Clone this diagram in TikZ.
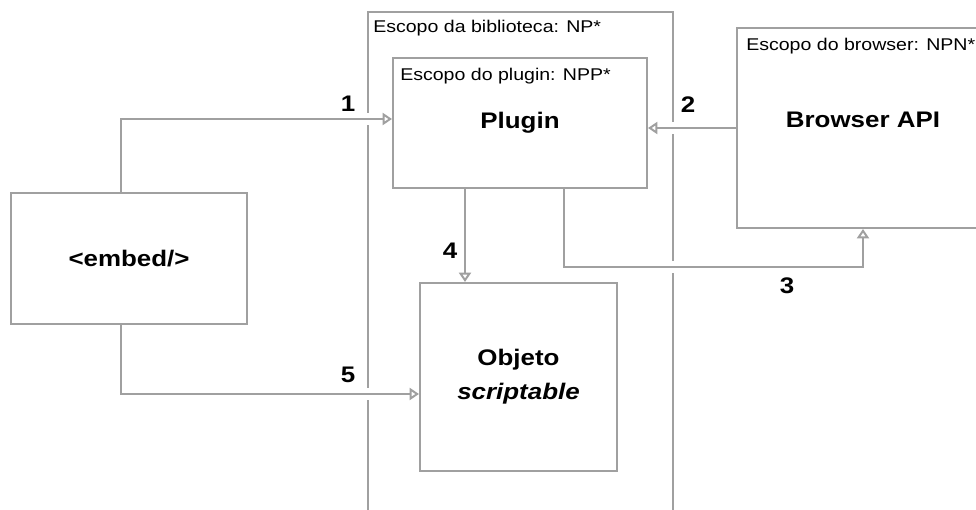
\documentclass[tikz,border=0pt]{standalone}
\usepackage{fontspec}
\setmainfont{Liberation Sans}[FakeStretch=1.15]
\usepackage{tikz}
\usetikzlibrary{arrows.meta,positioning}
\definecolor{framegray}{HTML}{A0A0A0}
\newcommand{\scopefont}{\fontsize{12.75}{15}\selectfont}
\newcommand{\namefont}{\fontsize{16.9}{25.5}\selectfont\bfseries}

\begin{document}
\begin{tikzpicture}[x=0.75pt,y=-0.75pt,
    box/.style={draw=framegray,line width=1.5pt,fill=white,font=\namefont,align=center,inner sep=0pt},
    scopelabel/.style={font=\scopefont,inner sep=0pt,anchor=base west},
    num/.style={font=\namefont,inner sep=0pt,anchor=base},
    conn/.style={framegray,line width=1.5pt,-{Triangle[open,length=7pt,width=9pt]},
      preaction={draw=white,-,line width=9.5pt,shorten <=4pt,shorten >=4pt}}]
  \clip (0,0) rectangle (976,510);
  \draw[framegray,line width=1.5pt] (368,510) |- (673,12) -- (673,510);
  \node[scopelabel] (libtitle) at (373,33) {Escopo da biblioteca: NP*};
  \node[box,minimum width=190.5pt,minimum height=97.5pt] (plugin) at (520,123) {Plugin};
  \node[scopelabel] (plugtitle) at (400,81) {Escopo do plugin: NPP*};
  \node[box,minimum width=189pt,minimum height=150pt,text depth=12pt] (browser) at (863,128) {Browser API};
  \node[scopelabel] (browtitle) at (746,51) {Escopo do browser: NPN*};
  \node[box,minimum width=177pt,minimum height=98.25pt] (embed) at (129,258.5) {<embed/>};
  \node[box,minimum width=147.75pt,minimum height=141pt] (objeto) at (518.5,377) {Objeto\\\textit{scriptable}};
  \draw[conn] ([xshift=-6pt]embed.north) |- ([yshift=3pt]plugin.west);
  \draw[conn] (browser.west) -- (browser.west -| plugin.east);
  \draw[conn] ([xshift=33pt]plugin.south) -- ++(0,78) -| (browser.south);
  \coordinate (p4) at ([xshift=-41.25pt]plugin.south);
  \draw[conn] (p4) -- (p4 |- objeto.north);
  \draw[conn] ([xshift=-6pt]embed.south) |- ([yshift=-12.75pt]objeto.west);
  \node[num] (n1) at (348,112) {1};
  \node[num] (n2) at (688,113) {2};
  \node[num] (n3) at (787,293) {3};
  \node[num] (n4) at (450,258) {4};
  \node[num] (n5) at (348,382) {5};
\end{tikzpicture}
\end{document}
